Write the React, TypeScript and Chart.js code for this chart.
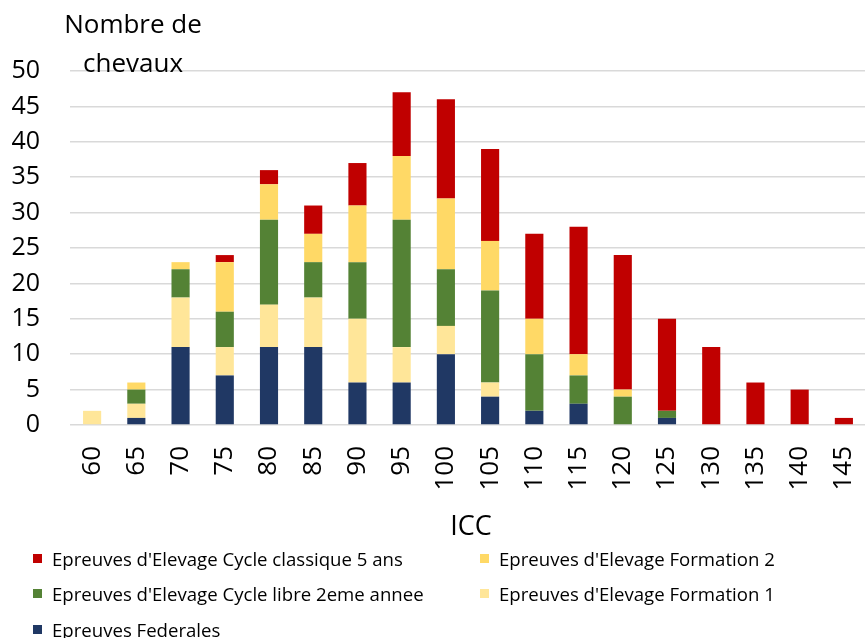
import React, { useEffect, useRef } from "react";
import { Chart, registerables } from "chart.js";

Chart.register(...registerables);

const categories = ["60", "65", "70", "75", "80", "85", "90", "95", "100", "105", "110", "115", "120", "125", "130", "135", "140", "145"];
const federales = [0, 1, 11, 7, 11, 11, 6, 6, 10, 4, 2, 3, 0, 1, 0, 0, 0, 0];
const formation1 = [2, 2, 7, 4, 6, 7, 9, 5, 4, 2, 0, 0, 0, 0, 0, 0, 0, 0];
const cycleLibre = [0, 2, 4, 5, 12, 5, 8, 18, 8, 13, 8, 4, 4, 1, 0, 0, 0, 0];
const formation2 = [0, 1, 1, 7, 5, 4, 8, 9, 10, 7, 5, 3, 1, 0, 0, 0, 0, 0];
const cycleClassique = [0, 0, 0, 1, 2, 4, 6, 9, 14, 13, 12, 18, 19, 13, 11, 6, 5, 1];

const seriesNames = {
  classique: "Epreuves d'Elevage Cycle classique 5 ans",
  f2: "Epreuves d'Elevage Formation 2",
  libre: "Epreuves d'Elevage Cycle libre 2eme annee",
  f1: "Epreuves d'Elevage Formation 1",
  fed: "Epreuves Federales",
};
const colors = {
  classique: "#C00000",
  f2: "#FFD966",
  libre: "#548235",
  f1: "#FFE699",
  fed: "#203864",
};

const FONT = "'Open Sans', 'Liberation Sans', sans-serif";

const textPlugin = {
  id: "axisTexts",
  afterDraw(chart: any) {
    const ctx = chart.ctx;
    const area = chart.chartArea;
    ctx.save();
    ctx.fillStyle = "#000";
    ctx.textAlign = "center";
    ctx.textBaseline = "alphabetic";
    ctx.font = `26px ${FONT}`;
    ctx.fillText("Nombre de", 133, 33);
    ctx.fillText("chevaux", 133, 72);
    ctx.font = `27px ${FONT}`;
    ctx.fillText("ICC", (area.left + area.right) / 2 + 3, 535);
    ctx.restore();
  },
};

export default function App() {
  const ref = useRef<HTMLCanvasElement>(null);
  useEffect(() => {
    if (!ref.current) return;
    const chart = new Chart(ref.current, {
      type: "bar",
      data: {
        labels: categories,
        datasets: [
          { label: seriesNames.fed, data: federales, backgroundColor: colors.fed },
          { label: seriesNames.f1, data: formation1, backgroundColor: colors.f1 },
          { label: seriesNames.libre, data: cycleLibre, backgroundColor: colors.libre },
          { label: seriesNames.f2, data: formation2, backgroundColor: colors.f2 },
          { label: seriesNames.classique, data: cycleClassique, backgroundColor: colors.classique },
        ],
      },
      options: {
        responsive: false,
        animation: false,
        layout: { padding: { top: 71, bottom: 113, right: 2, left: 0 } },
        datasets: { bar: { categoryPercentage: 1, barPercentage: 0.41 } },
        plugins: { legend: { display: false }, tooltip: { enabled: false } },
        scales: {
          x: {
            stacked: true,
            grid: { display: false, drawTicks: false },
            border: { display: false },
            ticks: {
              autoSkip: false,
              minRotation: 90,
              maxRotation: 90,
              padding: 21,
              color: "#000",
              font: { family: FONT, size: 26 },
            },
            afterFit(scale: any) {
              scale.height = 100;
              scale.paddingLeft = 0;
              scale.paddingRight = 0;
            },
          },
          y: {
            stacked: true,
            min: 0,
            max: 50,
            grid: { color: "#D9D9D9", lineWidth: 1.5, drawTicks: false },
            border: { display: false },
            ticks: {
              stepSize: 5,
              padding: 30,
              color: "#000",
              font: { family: FONT, size: 25 },
            },
            afterFit(scale: any) {
              scale.width = 70;
              scale.paddingTop = 0;
              scale.paddingBottom = 0;
            },
          },
        },
      },
      plugins: [textPlugin],
    });
    return () => chart.destroy();
  }, []);

  const legendItems = [
    { key: "classique", x: 33, y: 558 },
    { key: "f2", x: 480, y: 558 },
    { key: "libre", x: 33, y: 593 },
    { key: "f1", x: 480, y: 593 },
    { key: "fed", x: 33, y: 629 },
  ];

  return (
    <div style={{ position: "fixed", left: 0, top: 0, width: 865, height: 638, overflow: "hidden", background: "#fff" }}>
      <canvas ref={ref} width={868} height={638} style={{ display: "block" }} />
      {legendItems.map((it) => (
        <div
          key={it.key}
          style={{
            position: "absolute",
            left: it.x,
            top: it.y - 12,
            height: 24,
            display: "flex",
            alignItems: "center",
            fontFamily: FONT,
            fontSize: 18.6,
            color: "#000",
            whiteSpace: "nowrap",
          }}
        >
          <span style={{ display: "inline-block", width: 9, height: 9, background: (colors as any)[it.key], marginRight: 10 }} />
          {(seriesNames as any)[it.key]}
        </div>
      ))}
    </div>
  );
}
